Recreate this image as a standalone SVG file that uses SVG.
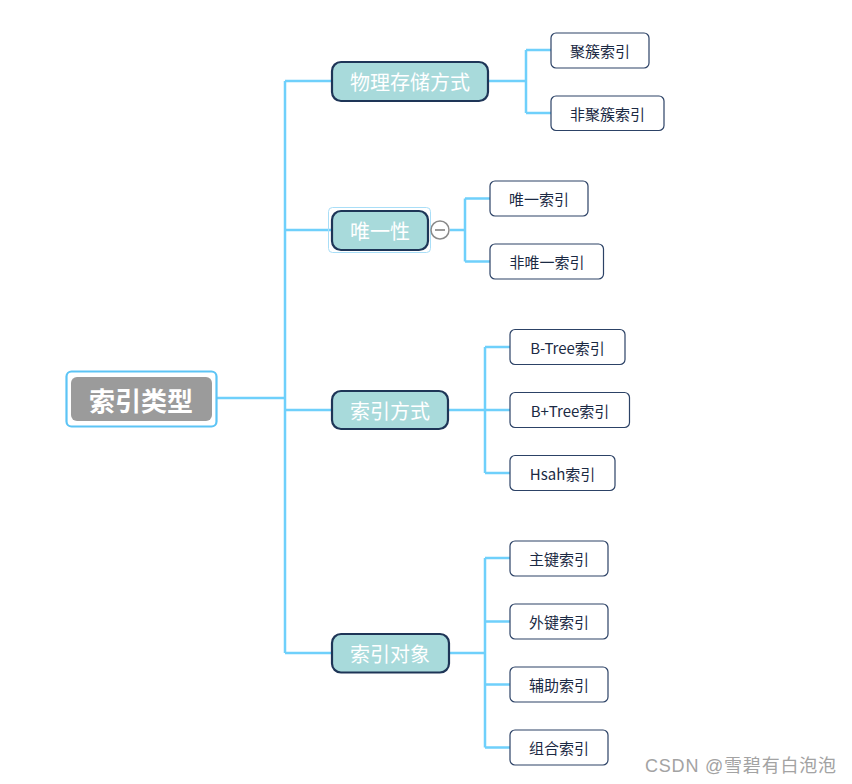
<svg xmlns="http://www.w3.org/2000/svg" width="852" height="784" viewBox="0 0 852 784">
<style>
.bg{fill:#ffffff}
.conn{fill:none;stroke:#6fd0fb;stroke-width:2.5;stroke-linejoin:miter}
.l1 rect{fill:#a8dadb;stroke:#1e3557;stroke-width:2.2}
.l1 text{fill:#ffffff;font-family:"Noto Sans CJK SC","Microsoft YaHei",sans-serif;font-size:20px;text-anchor:middle;dominant-baseline:central}
.l2 rect{fill:#ffffff;stroke:#2c4266;stroke-width:1.2}
.l2 text{fill:#1b2a44;font-family:"Noto Sans CJK SC","Microsoft YaHei",sans-serif;font-size:15px;text-anchor:middle;dominant-baseline:central}
.wm{fill:#a3a3a3;font-family:"Liberation Sans","Noto Sans CJK SC",sans-serif;font-size:18px}
</style>
<rect class="bg" x="0" y="0" width="852" height="784"/>
<g id="connectors">
<path class="conn" d="M216 398 H285 M285 81 V653 M285 81 H332 M285 230 H332 M285 410 H332 M285 653 H332"/>
<path class="conn" d="M488 81 H526 M526 50 V113 M526 50 H551 M526 113 H551"/>
<path class="conn" d="M450 230 H465 M465 198.5 V261.5 M465 198.5 H490 M465 261.5 H490"/>
<path class="conn" d="M448 410 H510 M485 347 V473 M485 347 H510 M485 473 H510"/>
<path class="conn" d="M449 653 H485 M485 558 V747.5 M485 558 H510 M485 621.5 H510 M485 684.5 H510 M485 747.5 H510"/>
</g>
<g id="root">
<rect x="66.5" y="371.5" width="150" height="55" rx="5" fill="#ffffff" stroke="#5cc4f5" stroke-width="2.2"/>
<rect x="71" y="377" width="141" height="44" rx="6" fill="#9b9b9b"/>
<text x="141" y="399" fill="#ffffff" font-family="Noto Sans CJK SC,Microsoft YaHei,sans-serif" font-size="26" font-weight="bold" text-anchor="middle" dominant-baseline="central">索引类型</text>
</g>
<g id="n-physical" class="l1">
<rect x="332" y="62" width="156" height="39" rx="9"/>
<text x="410" y="81.5">物理存储方式</text>
</g>
<g id="n-unique" class="l1">
<rect x="328.5" y="207.5" width="102" height="45" rx="4" style="fill:none;stroke:#a9def7;stroke-width:1"/>
<rect x="332" y="211" width="96" height="39" rx="9"/>
<text x="380" y="230.5">唯一性</text>
</g>
<g id="collapse">
<circle cx="440" cy="230" r="9" fill="#ffffff" stroke="#8a8a8a" stroke-width="1.5"/>
<line x1="435" y1="230" x2="445" y2="230" stroke="#7a7a7a" stroke-width="1.5"/>
</g>
<g id="n-method" class="l1">
<rect x="332" y="391" width="116" height="38" rx="9"/>
<text x="390" y="410.5">索引方式</text>
</g>
<g id="n-object" class="l1">
<rect x="332" y="634" width="117" height="38.5" rx="9"/>
<text x="390" y="653.5">索引对象</text>
</g>
<g id="n-clustered" class="l2"><rect x="551" y="33" width="98" height="35" rx="5"/><text x="600" y="50.5">聚簇索引</text></g>
<g id="n-nonclustered" class="l2"><rect x="551" y="96" width="113" height="34.5" rx="5"/><text x="607.5" y="113.5">非聚簇索引</text></g>
<g id="n-uniqueidx" class="l2"><rect x="490" y="181" width="98" height="35" rx="5"/><text x="539" y="198.5">唯一索引</text></g>
<g id="n-nonunique" class="l2"><rect x="490" y="244" width="113.5" height="35" rx="5"/><text x="547" y="261.5">非唯一索引</text></g>
<g id="n-btree" class="l2"><rect x="510" y="329.5" width="115" height="35" rx="5"/><text x="567.5" y="347">B-Tree索引</text></g>
<g id="n-bplustree" class="l2"><rect x="510" y="392.5" width="119.5" height="35" rx="5"/><text x="570" y="410">B+Tree索引</text></g>
<g id="n-hash" class="l2"><rect x="510" y="455.5" width="105" height="35" rx="5"/><text x="562.5" y="473">Hsah索引</text></g>
<g id="n-primary" class="l2"><rect x="510" y="541" width="98" height="35" rx="5"/><text x="559" y="558.5">主键索引</text></g>
<g id="n-foreign" class="l2"><rect x="510" y="604" width="98" height="35" rx="5"/><text x="559" y="621.5">外键索引</text></g>
<g id="n-secondary" class="l2"><rect x="510" y="667" width="98" height="35" rx="5"/><text x="559" y="684.5">辅助索引</text></g>
<g id="n-composite" class="l2"><rect x="510" y="730" width="98" height="35" rx="5"/><text x="559" y="747.5">组合索引</text></g>
<text class="wm" x="645" y="772" textLength="191" lengthAdjust="spacing">CSDN @雪碧有白泡泡</text>
</svg>
